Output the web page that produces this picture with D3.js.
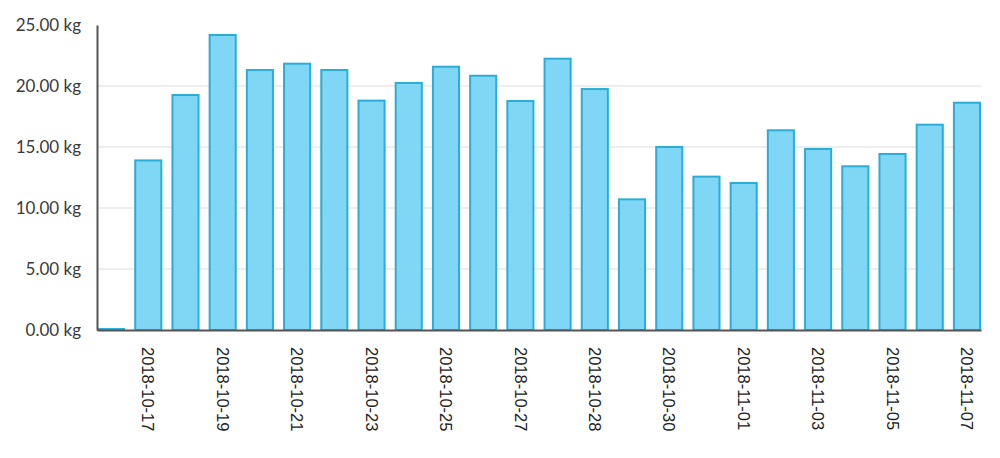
<!DOCTYPE html>
<html>
<head>
<meta charset="utf-8">
<script src="https://cdn.jsdelivr.net/npm/d3@7"></script>
<style>
  html, body { margin: 0; padding: 0; background: #fff; }
  svg { display: block; }
</style>
</head>
<body>
<svg id="chart" width="1000" height="458"></svg>
<script>
// Categories (dates); duplicate 2018-10-28 appears around DST change
const categories = [
  "2018-10-16", "2018-10-17", "2018-10-18", "2018-10-19", "2018-10-20", "2018-10-21",
  "2018-10-22", "2018-10-23", "2018-10-24", "2018-10-25", "2018-10-26", "2018-10-27",
  "2018-10-28", "2018-10-28", "2018-10-29", "2018-10-30", "2018-10-31", "2018-11-01",
  "2018-11-02", "2018-11-03", "2018-11-04", "2018-11-05", "2018-11-06", "2018-11-07"
];
const values = [
  0.08, 13.9, 19.26, 24.18, 21.31, 21.83,
  21.31, 18.8, 20.25, 21.58, 20.84, 18.77,
  22.24, 19.75, 10.71, 15.0, 12.57, 12.05,
  16.37, 14.84, 13.42, 14.43, 16.83, 18.63
];
const yTicks = [0, 5, 10, 15, 20, 25];
const shownLabelIdx = [1, 3, 5, 7, 9, 11, 13, 15, 17, 19, 21, 23];

const svg = d3.select("#chart");
const mLeft = 97, mRight = 981, mTop = 25, mBottom = 330;

const x = d3.scaleBand()
  .domain(d3.range(categories.length))
  .range([mLeft, mRight])
  .paddingInner(0.245)
  .paddingOuter(0)
  .align(0);

const y = d3.scaleLinear().domain([0, 25]).range([mBottom, mTop]);

// gridlines
svg.append("g")
  .selectAll("line")
  .data(yTicks.filter(t => t > 0 && t < 25))
  .join("line")
  .attr("x1", mLeft).attr("x2", mRight)
  .attr("y1", d => y(d)).attr("y2", d => y(d))
  .attr("stroke", "#dddddd")
  .attr("stroke-width", 1);

// bars
svg.append("g")
  .selectAll("rect")
  .data(values)
  .join("rect")
  .attr("x", (d, i) => x(i) + 1)
  .attr("width", x.bandwidth() - 2)
  .attr("y", d => y(d))
  .attr("height", d => y(0) - y(d))
  .attr("fill", "#7fd6f5")
  .attr("stroke", "#2badd8")
  .attr("stroke-width", 2);

// y axis
const yAxis = d3.axisLeft(y)
  .tickValues(yTicks)
  .tickSize(0)
  .tickPadding(16)
  .tickFormat(d => d3.format(".2f")(d) + " kg");

const gy = svg.append("g")
  .attr("transform", `translate(${mLeft},0)`)
  .call(yAxis);
gy.select(".domain").attr("stroke", "#555").attr("stroke-width", 2);
gy.selectAll("text")
  .attr("font-family", "Lato, sans-serif")
  .attr("font-size", 17)
  .attr("fill", "#3a3a3a");

// x axis
const xAxis = d3.axisBottom(x)
  .tickValues(shownLabelIdx)
  .tickSize(0)
  .tickFormat(i => categories[i]);

const gx = svg.append("g")
  .attr("transform", `translate(0,${mBottom})`)
  .call(xAxis);
gx.select(".domain").attr("stroke", "#555").attr("stroke-width", 2);
gx.selectAll("text")
  .attr("font-family", "'Liberation Sans', Arial, sans-serif")
  .attr("font-size", 16.5)
  .attr("fill", "#222")
  .attr("text-anchor", "start")
  .attr("dy", "0.35em")
  .attr("y", 0)
  .attr("transform", "translate(0,17) rotate(90)");
</script>
</body>
</html>
